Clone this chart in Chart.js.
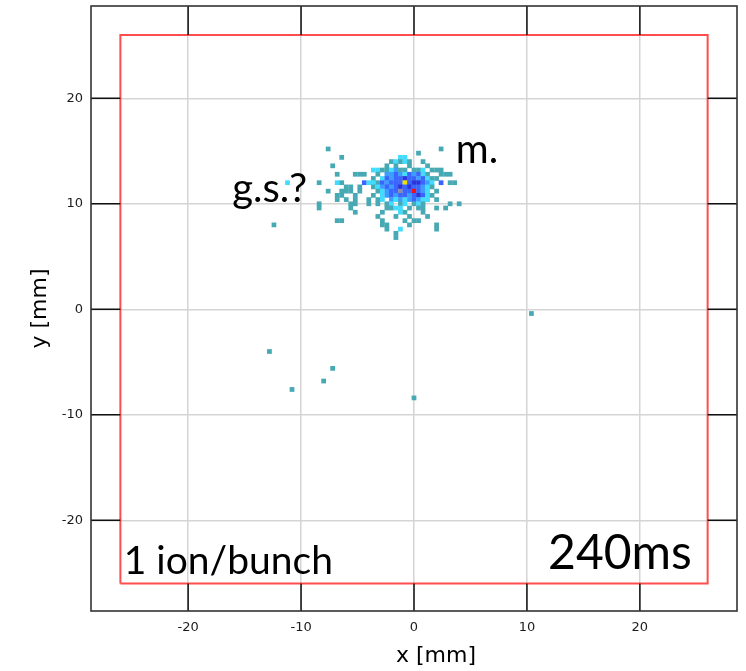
<!DOCTYPE html>
<html lang="en">
<head>
  <meta charset="UTF-8" />
  <title>Beam spot 240ms</title>
  <script src="https://cdn.jsdelivr.net/npm/chart.js"></script>
  <style>
    body { margin: 0; background: #fff; }
    #wrap { width: 746px; height: 671px; }
  </style>
</head>
<body>
  <div id="wrap"><canvas id="spot"></canvas></div>
  <script>
    // histogram bin width in mm
    const binSize = 0.42;

    // cluster rows: y of the row, x of the filled bins, counts per bin
    const rowY = [15.2, 14.8, 14.4, 14.0, 13.6, 13.2, 12.8, 12.4, 12.0, 11.6, 11.2,
                  10.8, 10.4, 10.0, 9.6, 9.2, 8.8, 8.4, 8.0, 7.6, 7.2, 6.8];
    const rowX = [
      [-7.6, 2.4],
      [0.4],
      [-6.4, -1.2, -0.8],
      [-2.0, -1.6, -1.2, -0.8, -0.4, 0.8],
      [-7.2, -2.4, -1.6, -0.4, 1.2],
      [-3.6, -3.2, -2.8, -2.4, -2.0, -1.6, -1.2, -0.8, 0, 0.4, 0.8, 1.6, 2.0, 2.4],
      [-6.8, -5.2, -4.8, -4.4, -3.2, -2.4, -2.0, -1.6, -1.2, -0.8, -0.4, 0, 0.4, 0.8, 1.2, 2.4, 2.8, 3.2],
      [-3.6, -2.8, -2.4, -2.0, -1.6, -1.2, -0.8, -0.4, 0, 0.4, 0.8, 1.2, 1.6, 2.0],
      [-8.4, -6.8, -6.4, -4.4, -4.0, -3.6, -3.2, -2.8, -2.4, -2.0, -1.6, -1.2, -0.8, -0.4, 0, 0.4, 0.8, 1.2, 1.6, 2.4, 3.2, 3.6],
      [-6.0, -5.6, -4.8, -3.6, -3.2, -2.8, -2.4, -2.0, -1.6, -1.2, -0.8, -0.4, 0, 0.4, 0.8, 1.2, 1.6],
      [-7.6, -6.4, -6.0, -5.6, -4.8, -3.2, -2.8, -2.4, -2.0, -1.6, -1.2, -0.8, -0.4, 0, 0.4, 0.8, 1.2, 2.0],
      [-6.8, -6.4, -5.2, -3.6, -2.8, -2.4, -2.0, -1.6, -1.2, -0.8, -0.4, 0, 0.4, 0.8, 1.2, 1.6],
      [-6.8, -6.0, -5.2, -4.0, -3.2, -2.8, -2.0, -1.6, -1.2, -0.8, -0.4, 0, 0.4, 0.8, 1.2, 2.0],
      [-8.4, -5.6, -5.2, -4.0, -3.2, -2.4, -2.0, -1.2, -0.8, 0, 0.4, 0.8, 3.2, 4.0],
      [-8.4, -5.6, -2.4, -2.0, -1.6, -1.2, -0.4, 0.4, 0.8, 2.0, 2.8],
      [-5.2, -2.8, -1.2, -0.8, 0.8],
      [-3.2, -1.6, -0.4, 1.2],
      [-6.8, -6.4, -2.8, -0.8, 0, 0.4],
      [-2.8, -2.4, -0.4, 2.0],
      [-2.4, -1.2, 2.0],
      [-1.6],
      [-1.6]
    ];
    const rowCount = [
      [1, 1],
      [1],
      [1, 2, 2],
      [1, 2, 1, 2, 1, 1],
      [1, 1, 1, 1, 1],
      [2, 2, 1, 1, 2, 3, 1, 1, 1, 1, 2, 1, 1, 1],
      [1, 1, 1, 1, 1, 3, 3, 4, 3, 2, 4, 3, 4, 2, 1, 1, 1, 1],
      [1, 2, 4, 3, 4, 4, 5, 4, 4, 3, 4, 2, 1, 1],
      [1, 2, 1, 4, 2, 2, 1, 4, 3, 4, 4, 4, 7, 4, 5, 5, 4, 3, 2, 4, 1, 1],
      [1, 1, 1, 1, 2, 3, 4, 3, 4, 5, 4, 5, 4, 4, 3, 2, 1],
      [1, 1, 1, 1, 1, 1, 2, 3, 4, 4, 6, 4, 4, 8, 4, 3, 2, 1],
      [1, 1, 1, 1, 2, 3, 4, 3, 4, 4, 3, 4, 5, 4, 2, 1],
      [1, 1, 1, 1, 1, 2, 3, 2, 3, 2, 3, 4, 3, 2, 2, 1],
      [1, 1, 1, 1, 1, 1, 2, 1, 2, 1, 2, 1, 1, 1],
      [1, 1, 1, 1, 2, 2, 1, 1, 1, 1, 1],
      [1, 1, 2, 1, 1],
      [1, 1, 1, 1],
      [1, 1, 1, 1, 1, 1],
      [1, 1, 1, 1],
      [1, 2, 1],
      [1],
      [1]
    ];

    // isolated hits outside the cluster
    const strayX = [-11.2, -12.4, -12.8, -7.2, -8.0, -10.8, 0.0, 10.4];
    const strayY = [12.0, 8.0, -4.0, -5.6, -6.8, -7.6, -8.4, -0.4];
    const strayCount = [2, 1, 1, 1, 1, 1, 1, 1];

    // red acceptance box
    const boxX = [-26, 26, 26, -26, -26];
    const boxY = [-26, -26, 26, 26, -26];

    const tickValues = [-20, -10, 0, 10, 20];
    const xRange = [-28.6, 28.6];
    const yRange = [-28.6, 28.75];

    // colour per count
    const palette = ['#ffffff', '#47a9b3', '#42dcff', '#3d9dff', '#3a66ff',
                     '#2b35dc', '#8b8cab', '#f0e000', '#ee1111'];

    const cells = [];
    rowY.forEach((yv, i) => {
      rowX[i].forEach((xv, j) => cells.push({ x: xv, y: yv, c: rowCount[i][j] }));
    });
    strayX.forEach((xv, i) => cells.push({ x: xv, y: strayY[i], c: strayCount[i] }));

    const box = boxX.map((xv, i) => ({ x: xv, y: boxY[i] }));

    // annotation texts, placed in data coordinates
    const notes = [
      { text: 'm.', x: 3.7, y: 13.9, size: 40, align: 'left' },
      { text: 'g.s.?', x: -16.1, y: 10.2, size: 40, align: 'left' },
      { text: '1 ion/bunch', x: -25.7, y: -25.1, size: 39, align: 'left' },
      { text: '240ms', x: 24.6, y: -24.6, size: 48, align: 'right' }
    ];

    const framePlugin = {
      id: 'frame',
      afterDatasetsDraw(chart) {
        const { ctx, chartArea: a, scales: { x, y } } = chart;
        const edge = Math.max(...boxX);
        ctx.save();
        ctx.strokeStyle = '#111';
        ctx.lineWidth = 1.5;
        ctx.beginPath();
        tickValues.forEach(v => {
          const px = x.getPixelForValue(v);
          ctx.moveTo(px, a.bottom);
          ctx.lineTo(px, y.getPixelForValue(-edge));
          ctx.moveTo(px, a.top);
          ctx.lineTo(px, y.getPixelForValue(edge));
          const py = y.getPixelForValue(v);
          ctx.moveTo(a.left, py);
          ctx.lineTo(x.getPixelForValue(-edge), py);
          ctx.moveTo(a.right, py);
          ctx.lineTo(x.getPixelForValue(edge), py);
        });
        ctx.stroke();
        ctx.strokeStyle = '#333';
        ctx.lineWidth = 1.6;
        ctx.strokeRect(a.left, a.top, a.right - a.left, a.bottom - a.top);
        ctx.restore();
      },
      afterDraw(chart) {
        const { ctx, scales: { x, y } } = chart;
        ctx.save();
        ctx.fillStyle = '#000';
        ctx.textBaseline = 'alphabetic';
        notes.forEach(n => {
          ctx.font = n.size + 'px Lato, "Open Sans", sans-serif';
          ctx.textAlign = n.align;
          ctx.fillText(n.text, x.getPixelForValue(n.x), y.getPixelForValue(n.y));
        });
        ctx.restore();
      }
    };

    const cellRadius = (ctx) => {
      const s = ctx.chart.scales.x;
      return Math.abs(s.getPixelForValue(binSize) - s.getPixelForValue(0)) / Math.SQRT2;
    };

    const tickFont = { family: '"DejaVu Sans", sans-serif', size: 13 };
    const titleFont = { family: '"DejaVu Sans", sans-serif', size: 22 };

    new Chart(document.getElementById('spot'), {
      type: 'scatter',
      data: {
        datasets: [
          {
            label: 'hits',
            data: cells,
            pointStyle: 'rect',
            pointRadius: cellRadius,
            pointHoverRadius: cellRadius,
            borderWidth: 0,
            backgroundColor: (ctx) => palette[ctx.raw ? ctx.raw.c : 1],
          },
          {
            type: 'line',
            label: 'box',
            data: box,
            borderColor: '#ff4d4d',
            borderWidth: 2,
            pointRadius: 0,
            fill: false,
            tension: 0,
          },
        ],
      },
      options: {
        responsive: true,
        maintainAspectRatio: false,
        animation: false,
        events: [],
        layout: { autoPadding: false, padding: { top: 6, right: 9, left: 0, bottom: 0 } },
        plugins: {
          legend: { display: false },
          tooltip: { enabled: false },
        },
        scales: {
          x: {
            type: 'linear',
            min: xRange[0],
            max: xRange[1],
            afterFit: (scale) => {
              scale.height = 60;
              scale.paddingLeft = 0;
              scale.paddingRight = 0;
            },
            afterBuildTicks: (scale) => { scale.ticks = tickValues.map(v => ({ value: v })); },
            ticks: { font: tickFont, color: '#1c1c1c', padding: 9, maxRotation: 0 },
            grid: { color: '#d4d4d4', lineWidth: 1.5, drawTicks: false },
            border: { display: false },
            title: {
              display: true,
              text: '\u2003\u2003x [mm]',
              font: titleFont,
              color: '#000',
              padding: { top: 0, bottom: 2 },
            },
          },
          y: {
            type: 'linear',
            min: yRange[0],
            max: yRange[1],
            afterFit: (scale) => {
              scale.width = 91;
              scale.paddingTop = 0;
              scale.paddingBottom = 0;
            },
            afterBuildTicks: (scale) => { scale.ticks = tickValues.map(v => ({ value: v })); },
            ticks: { font: tickFont, color: '#1c1c1c', padding: 8 },
            grid: { color: '#d4d4d4', lineWidth: 1.5, drawTicks: false },
            border: { display: false },
            title: {
              display: true,
              text: 'y [mm]',
              font: titleFont,
              color: '#000',
              padding: { top: 27, bottom: 0 },
            },
          },
        },
      },
      plugins: [framePlugin],
    });
  </script>
</body>
</html>
